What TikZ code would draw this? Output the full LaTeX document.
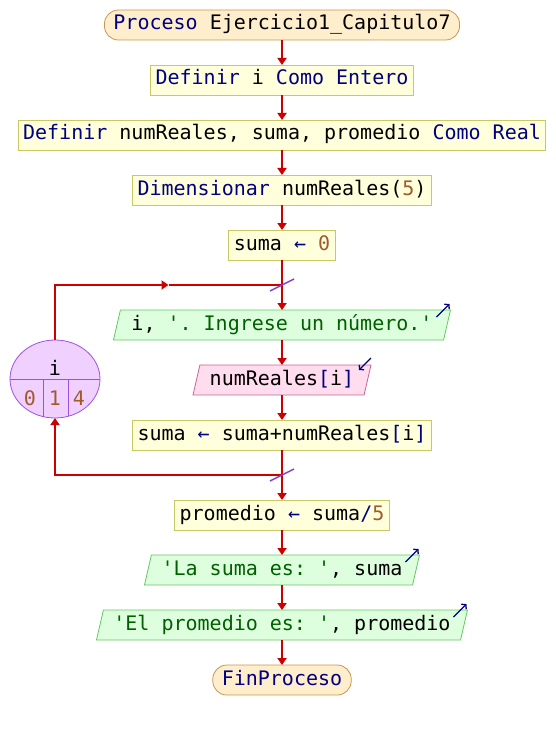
\documentclass[tikz,border=0pt]{standalone}
\usepackage{fontspec}
\usepackage{xcolor}
\usetikzlibrary{positioning, arrows.meta, calc, shapes.geometric}
\setmonofont{DejaVu Sans Mono}
\definecolor{kwblue}{HTML}{000080}
\definecolor{numbrown}{HTML}{A05A2C}
\definecolor{strgreen}{HTML}{006000}
\definecolor{flowred}{HTML}{CC0000}
\definecolor{cutpurple}{HTML}{8A3CC8}
\definecolor{procfill}{HTML}{FFFFDC}
\definecolor{procline}{HTML}{C8C864}
\definecolor{termfill}{HTML}{FFEECC}
\definecolor{termline}{HTML}{C89650}
\definecolor{outfill}{HTML}{DDFFDD}
\definecolor{outline}{HTML}{64C864}
\definecolor{infill}{HTML}{FFDDEE}
\definecolor{inline}{HTML}{C86496}
\definecolor{varfill}{HTML}{F0D0FF}
\definecolor{varline}{HTML}{A050E0}
\newcommand{\kw}[1]{\textcolor{kwblue}{#1}}
\newcommand{\nm}[1]{\textcolor{numbrown}{#1}}
\newcommand{\strg}[1]{\textcolor{strgreen}{#1}}

\begin{document}
\begin{tikzpicture}[node distance=25pt,
      every node/.style={font=\ttfamily\fontsize{20pt}{23pt}\selectfont, text height=14.5pt, text depth=4.5pt, inner ysep=0pt, outer sep=0pt},
      proc/.style={draw=procline, fill=procfill, line width=0.8pt, minimum height=30pt, inner xsep=5pt},
      term/.style={proc, draw=termline, fill=termfill, rounded corners=14pt, inner xsep=9pt},
      outp/.style={trapezium, trapezium left angle=70, trapezium right angle=110, trapezium stretches body, draw=outline, fill=outfill, line width=0.8pt, minimum height=30pt, inner xsep=0pt},
      inp/.style={outp, draw=inline, fill=infill},
      counter/.style={ellipse, draw=varline, fill=varfill, line width=0.8pt, minimum width=90pt, minimum height=78pt},
      flow/.style={draw=flowred, line width=1.8pt, -{Triangle[length=7pt, width=9pt]}},
      wire/.style={draw=flowred, line width=1.8pt},
      cutmark/.style={draw=cutpurple, line width=1.5pt},
      iomark/.style={draw=kwblue, line width=1.3pt, -{Straight Barb[length=3pt, width=7pt]}}]
    \useasboundingbox (0,0) rectangle (556pt,-730pt);
    \node[term] (inicio) at (282pt,-25pt) {\kw{Proceso} Ejercicio1\_Capitulo7};
    \node[proc, below=of inicio] (defi) {\kw{Definir} i \kw{Como Entero}};
    \node[proc, below=of defi] (defr) {\kw{Definir} numReales, suma, promedio \kw{Como Real}};
    \node[proc, below=of defr] (dimen) {\kw{Dimensionar} numReales(\nm{5})};
    \node[proc, below=of dimen] (sumaini) {suma \kw{←} \nm{0}};
    \node[outp, minimum width=337pt, below=50pt of sumaini] (ingreso) {i, \strg{'. Ingrese un número.'}};
    \node[inp, minimum width=178pt, below=of ingreso] (lectura) {numReales\kw{[}i\kw{]}};
    \node[proc, below=of lectura] (acum) {suma \kw{←} suma+numReales\kw{[}i\kw{]}};
    \node[proc, below=50pt of acum] (prom) {promedio \kw{←} suma\kw{/}\nm{5}};
    \node[outp, minimum width=275pt, below=of prom] (msuma) {\strg{'La suma es: '}, suma};
    \node[outp, minimum width=371pt, below=of msuma] (mprom) {\strg{'El promedio es: '}, promedio};
    \node[term, below=of mprom] (fin) {\kw{FinProceso}};
    \node[counter] (ivar) at (55pt,-379pt) {};
    \draw[draw=varline, line width=0.8pt] (ivar.west) -- (ivar.east);
    \draw[draw=varline, line width=0.8pt] ([xshift=-12pt]ivar.center) -- ([xshift=-12pt, yshift=-37.5pt]ivar.center);
    \draw[draw=varline, line width=0.8pt] ([xshift=13pt]ivar.center) -- ([xshift=13pt, yshift=-37.3pt]ivar.center);
    \node (ivarname) at ([yshift=9pt]ivar.center) {i};
    \node (ivarini) at ([xshift=-25pt, yshift=-21pt]ivar.center) {\nm{0}};
    \node (ivarpaso) at ([yshift=-21pt]ivar.center) {\nm{1}};
    \node (ivarfin) at ([xshift=24pt, yshift=-21pt]ivar.center) {\nm{4}};
    \coordinate (looptop) at ($(sumaini.south)!0.5!(ingreso.north)$);
    \coordinate (loopbot) at ($(acum.south)!0.5!(prom.north)$);
    \coordinate (loopmid) at ($(ivar.north |- looptop)!0.5!(looptop)$);
    \draw[flow] (inicio) -- (defi);
    \draw[flow] (defi) -- (defr);
    \draw[flow] (defr) -- (dimen);
    \draw[flow] (dimen) -- (sumaini);
    \draw[flow] (sumaini) -- (ingreso);
    \draw[flow] (ivar.north) |- (loopmid);
    \draw[wire] (loopmid) -- (looptop);
    \draw[flow] (ingreso) -- (lectura);
    \draw[flow] (lectura) -- (acum);
    \draw[flow] (acum) -- (prom);
    \draw[flow] (loopbot) -| (ivar.south);
    \draw[flow] (prom) -- (msuma);
    \draw[flow] (msuma) -- (mprom);
    \draw[flow] (mprom) -- (fin);
    \draw[cutmark] ([shift={(-12pt,-6pt)}]looptop) -- ([shift={(12pt,6pt)}]looptop);
    \draw[cutmark] ([shift={(-12pt,-6pt)}]loopbot) -- ([shift={(12pt,6pt)}]loopbot);
    \draw[iomark] ([shift={(-14pt,-7pt)}]ingreso.top right corner) -- ([shift={(-1pt,6pt)}]ingreso.top right corner);
    \draw[iomark] ([shift={(0pt,7pt)}]lectura.top right corner) -- ([shift={(-12pt,-5pt)}]lectura.top right corner);
    \draw[iomark] ([shift={(-14pt,-7pt)}]msuma.top right corner) -- ([shift={(-1pt,6pt)}]msuma.top right corner);
    \draw[iomark] ([shift={(-14pt,-7pt)}]mprom.top right corner) -- ([shift={(-1pt,6pt)}]mprom.top right corner);
  \end{tikzpicture}
\end{document}
